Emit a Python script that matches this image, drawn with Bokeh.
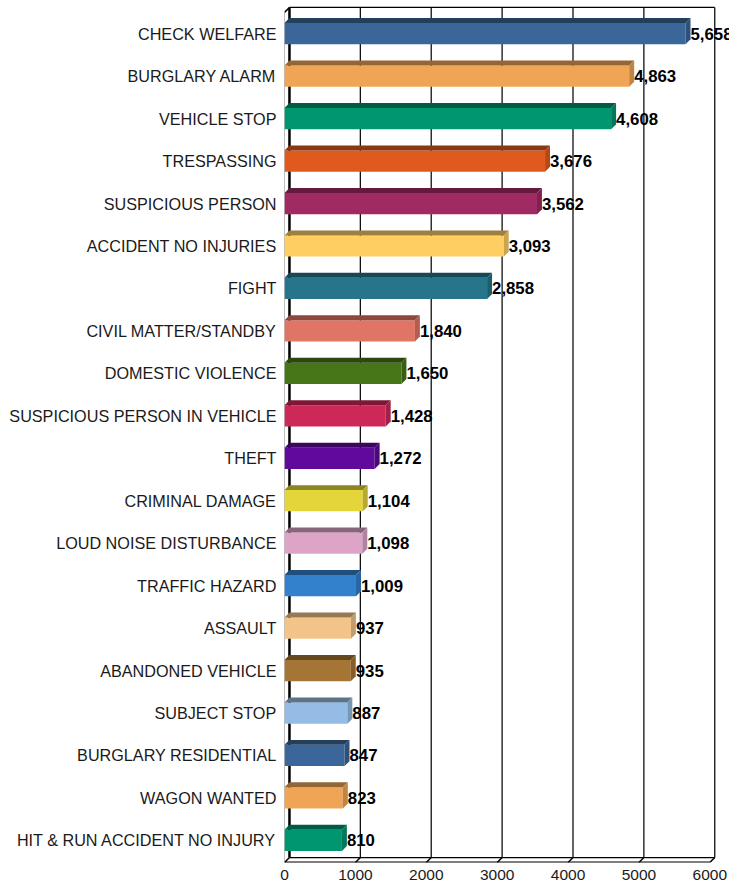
from bokeh.plotting import figure
from bokeh.models import Range1d, FixedTicker
from bokeh.embed import file_html
from bokeh.resources import INLINE
from bokeh.core.properties import value

# ---- data (top to bottom as shown) ----
categories = [
    "CHECK WELFARE", "BURGLARY ALARM", "VEHICLE STOP", "TRESPASSING",
    "SUSPICIOUS PERSON", "ACCIDENT NO INJURIES", "FIGHT", "CIVIL MATTER/STANDBY",
    "DOMESTIC VIOLENCE", "SUSPICIOUS PERSON IN VEHICLE", "THEFT", "CRIMINAL DAMAGE",
    "LOUD NOISE DISTURBANCE", "TRAFFIC HAZARD", "ASSAULT", "ABANDONED VEHICLE",
    "SUBJECT STOP", "BURGLARY RESIDENTIAL", "WAGON WANTED", "HIT & RUN ACCIDENT NO INJURY",
]
counts = [5658, 4863, 4608, 3676, 3562, 3093, 2858, 1840, 1650, 1428,
          1272, 1104, 1098, 1009, 937, 935, 887, 847, 823, 810]
bar_colors = [
    "#3A6699", "#F0A556", "#009670", "#E05A1E", "#A02B62", "#FFCE63", "#26758A",
    "#E07565", "#467618", "#CC2858", "#5F0A9A", "#E4D63A", "#DDA4C8", "#3380CC",
    "#F2C48A", "#A47535", "#94BCE4", "#3A6699", "#F0A556", "#009670",
]
x_ticks = [0, 1000, 2000, 3000, 4000, 5000, 6000]


def shade(hex_color, f):
    h = hex_color.lstrip("#")
    r, g, b = (int(h[i:i + 2], 16) for i in (0, 2, 4))
    return "#%02X%02X%02X" % (int(r * f), int(g * f), int(b * f))


n = len(categories)
ypos = [n - 1 - i for i in range(n)]

# depth of the pseudo-3D effect (data units)
DX = 70.0
DY = 0.117
H = 0.25
Y_LO = -0.5205
Y_HI = 19.782
TOP = 19.618
X_MAX = 6278
AX_MAX = x_ticks[-1]

p = figure(width=729, height=888, output_backend="svg", toolbar_location=None,
           x_range=Range1d(0, X_MAX), y_range=Range1d(Y_LO, Y_HI),
           min_border_left=284, min_border_right=0, min_border_top=0,
           min_border_bottom=26)
p.outline_line_color = None
p.xgrid.grid_line_color = None
p.ygrid.grid_line_color = None
p.background_fill_color = "white"
p.border_fill_color = "white"

# ---- walls, grid and floor ----
y_back = Y_LO + DY
for t in x_ticks[1:]:
    p.line([t + DX, t + DX], [y_back, TOP], line_color="#111111", line_width=1.3)
# left wall
p.line([0, 0], [Y_LO, TOP - DY], line_color="#808080", line_width=1)
p.line([0, DX], [TOP - DY, TOP], line_color="black", line_width=1.5)
p.line([DX, DX], [y_back, TOP], line_color="black", line_width=2.5)
# top edge of back wall
p.line([DX, AX_MAX + DX], [TOP, TOP], line_color="black", line_width=1.3)
# floor
p.line([0, AX_MAX], [Y_LO, Y_LO], line_color="black", line_width=2)
p.line([DX, AX_MAX + DX], [y_back, y_back], line_color="black", line_width=1.3)
for t in x_ticks:
    p.line([t, t + DX], [Y_LO, y_back], line_color="black", line_width=1.5)

# ---- bars ----
p.hbar(y=ypos, left=0, right=counts, height=2 * H, fill_color=bar_colors,
       line_color=None)
top_xs, top_ys, side_xs, side_ys = [], [], [], []
for c, v in zip(ypos, counts):
    top_xs.append([0, v, v + DX, DX])
    top_ys.append([c + H, c + H, c + H + DY, c + H + DY])
    side_xs.append([v, v + DX, v + DX, v])
    side_ys.append([c - H, c - H + DY, c + H + DY, c + H])
p.patches(top_xs, top_ys, fill_color=[shade(c, 0.62) for c in bar_colors],
          line_color=None)
p.patches(side_xs, side_ys, fill_color=[shade(c, 0.8) for c in bar_colors],
          line_color=None)

# ---- value labels ----
p.text(x=[v + DX for v in counts], y=ypos, text=[f"{v:,}" for v in counts],
       text_font=value("Liberation Sans"), text_font_style="bold",
       text_font_size="16.8px", text_baseline="middle", text_align="left",
       text_color="black")

# ---- axes ----
p.yaxis.ticker = FixedTicker(ticks=ypos)
p.yaxis.major_label_overrides = {c: cat for c, cat in zip(ypos, categories)}
p.yaxis.axis_line_color = None
p.yaxis.major_tick_line_color = None
p.yaxis.minor_tick_line_color = None
p.yaxis.major_tick_out = 0
p.yaxis.major_label_standoff = 8
p.yaxis.major_label_text_font = "Liberation Sans"
p.yaxis.major_label_text_font_size = "16.2px"
p.yaxis.major_label_text_color = "#1a1a1a"

p.xaxis.ticker = FixedTicker(ticks=x_ticks)
p.xaxis.axis_line_color = None
p.xaxis.major_tick_line_color = None
p.xaxis.minor_tick_line_color = None
p.xaxis.major_tick_out = 0
p.xaxis.major_label_standoff = 7
p.xaxis.major_label_text_font = "Liberation Sans"
p.xaxis.major_label_text_font_size = "15.5px"
p.xaxis.major_label_text_color = "#1a1a1a"

open("out.html", "w").write(file_html(p, INLINE))
